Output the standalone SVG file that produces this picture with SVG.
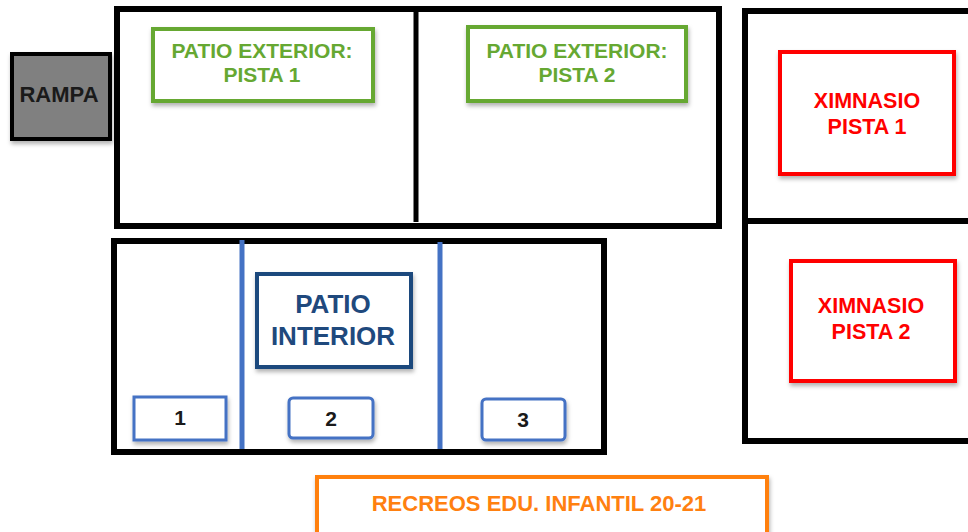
<svg xmlns="http://www.w3.org/2000/svg" width="968" height="532" viewBox="0 0 968 532">
<defs>
<filter id="sh" x="-10%" y="-10%" width="130%" height="140%">
<feDropShadow dx="1" dy="3" stdDeviation="2" flood-color="#000" flood-opacity="0.3"/>
</filter>
</defs>
<style>
text{font-family:"Liberation Sans",Arial,sans-serif;font-weight:bold;text-anchor:middle}
.wall{fill:#fff;stroke:#000;stroke-width:6}
.green{fill:#fff;stroke:#66A832;stroke-width:4;filter:url(#sh)}
.gt{fill:#66A832;font-size:21px}
.red{fill:#fff;stroke:#FF0000;stroke-width:4;filter:url(#sh)}
.rt{fill:#FF0000;font-size:21.5px}
.num{fill:#fff;stroke:#4472C4;stroke-width:3;filter:url(#sh)}
.nt{fill:#1a1a1a;font-size:21px}
.div{stroke:#4472C4;stroke-width:5}
</style>
<rect width="968" height="532" fill="#fff"/>
<g id="patio-exterior">
<rect class="wall" x="117" y="9" width="602" height="217"/>
<line x1="416" y1="9" x2="416" y2="222" stroke="#000" stroke-width="5"/>
</g>
<g id="rampa">
<rect x="12" y="54" width="98" height="85" fill="#808080" stroke="#000" stroke-width="4" filter="url(#sh)"/>
<text x="59" y="102" fill="#1a1a1a" font-size="22">RAMPA</text>
</g>
<g id="pista1">
<rect class="green" x="153" y="29" width="220" height="72"/>
<text class="gt" x="262" y="58">PATIO EXTERIOR:</text>
<text class="gt" x="262" y="82">PISTA 1</text>
</g>
<g id="pista2">
<rect class="green" x="468" y="27" width="218" height="74"/>
<text class="gt" x="577" y="58">PATIO EXTERIOR:</text>
<text class="gt" x="577" y="82">PISTA 2</text>
</g>
<g id="ximnasio">
<rect class="wall" x="745" y="11" width="240" height="430"/>
<line x1="745" y1="221" x2="968" y2="221" stroke="#000" stroke-width="6"/>
</g>
<g id="ximnasio-pista1">
<rect class="red" x="780" y="52" width="174" height="122"/>
<text class="rt" x="867" y="108">XIMNASIO</text>
<text class="rt" x="867" y="134">PISTA 1</text>
</g>
<g id="ximnasio-pista2">
<rect class="red" x="791" y="261" width="164" height="120"/>
<text class="rt" x="871" y="313">XIMNASIO</text>
<text class="rt" x="871" y="339">PISTA 2</text>
</g>
<g id="patio-interior-area">
<rect class="wall" x="114" y="241" width="490" height="211"/>
<line class="div" x1="242" y1="240" x2="242" y2="449"/>
<line class="div" x1="440" y1="242" x2="440" y2="449"/>
</g>
<g id="patio-interior">
<rect x="257" y="274" width="154" height="93" fill="#fff" stroke="#1F497D" stroke-width="4" filter="url(#sh)"/>
<text x="333" y="313" fill="#1F497D" font-size="26">PATIO</text>
<text x="333" y="345" fill="#1F497D" font-size="26">INTERIOR</text>
</g>
<g id="zona1">
<rect class="num" x="134" y="397" width="92" height="43"/>
<text class="nt" x="180" y="425">1</text>
</g>
<g id="zona2">
<rect class="num" x="289" y="398" width="84" height="40" rx="4" stroke-width="2" stroke="#5B86D0"/>
<text class="nt" x="331" y="426">2</text>
</g>
<g id="zona3">
<rect class="num" x="482" y="399" width="83" height="41" rx="4" stroke-width="2" stroke="#5B86D0"/>
<text class="nt" x="523" y="427">3</text>
</g>
<g id="titulo">
<rect x="317" y="477" width="450" height="70" fill="#fff" stroke="#FF8010" stroke-width="4" filter="url(#sh)"/>
<text x="539" y="511" fill="#FF8010" font-size="22">RECREOS EDU. INFANTIL 20-21</text>
</g>
<g id="connectors"/>
</svg>
